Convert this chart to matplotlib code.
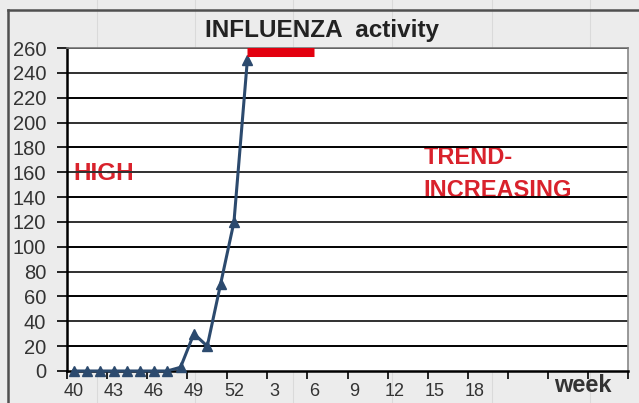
import matplotlib.pyplot as plt
from matplotlib.lines import Line2D

plt.rcParams['font.family'] = ['Liberation Sans', 'DejaVu Sans']

# data
weeks = list(range(40, 53)) + list(range(1, 30))
cases = [0, 0, 0, 0, 0, 0, 0, 0, 3, 30, 20, 70, 120, 250]
label_weeks = [40, 43, 46, 49, 52, 3, 6, 9, 12, 15, 18]
high_weeks = [1, 6]      # red bar at the top
high_level = 257
yticks = list(range(0, 261, 20))

x = list(range(len(cases)))
pos = {w: i for i, w in enumerate(weeks)}

fig = plt.figure(figsize=(6.39, 4.03), dpi=100, facecolor='#ececec')

# faint spreadsheet cells behind the chart
for fx in [97, 195, 293, 392, 492, 590]:
    fig.add_artist(Line2D([fx / 639, fx / 639], [0, 1], color='#dadada', lw=0.8, zorder=0))
# chart border
fig.add_artist(Line2D([8 / 639, 1], [1 - 10 / 403, 1 - 10 / 403], color='#505050', lw=1.8))
fig.add_artist(Line2D([8 / 639, 8 / 639], [0, 1 - 10 / 403], color='#505050', lw=1.8))

ax = fig.add_axes([67 / 639, 1 - 371 / 403, (628 - 67) / 639, (371 - 48) / 403])
ax.set_facecolor('white')

for i, v in enumerate(yticks[1:]):
    ax.axhline(v, color='black' if i % 2 == 0 else '#303030', lw=1.4, zorder=1)

ax.plot(x, cases, color='#2c4a6e', lw=2.2, marker='^', markersize=7, zorder=3, clip_on=False)
ax.plot([pos[high_weeks[0]], pos[high_weeks[1]]], [high_level, high_level],
        color='#e3000f', lw=6.5, solid_capstyle='butt', zorder=4)

ax.set_xlim(-0.5, len(weeks) - 0.5)
ax.set_ylim(0, 260)

ax.set_yticks(yticks)
ax.set_yticklabels([str(v) for v in yticks], fontsize=14.5, color='#333333')
ax.tick_params(axis='y', direction='out', length=7, width=1.2, pad=8, colors='black', labelcolor='#333333')

ax.set_xticks([i - 0.5 for i in range(0, len(weeks) + 1, 3)])
ax.set_xticklabels([])
ax.tick_params(axis='x', direction='out', length=6, width=1.2, colors='black')
ax.set_xticks([pos[w] for w in label_weeks], minor=True)
ax.set_xticklabels([str(w) for w in label_weeks], minor=True, fontsize=13, color='#333333')
ax.tick_params(axis='x', which='minor', length=0, pad=9)

for s in ['left', 'bottom']:
    ax.spines[s].set_linewidth(1.8)
    ax.spines[s].set_color('black')
ax.spines['top'].set_color('#777777')
ax.spines['top'].set_linewidth(1.2)
ax.spines['right'].set_color('#888888')
ax.spines['right'].set_linewidth(1.2)

fig.text(322 / 639, 1 - 31 / 403, 'INFLUENZA  activity', ha='center', va='center',
         fontsize=17.5, fontweight='bold', color='#222222')
fig.text(583 / 639, 1 - 386 / 403, 'week', ha='center', va='center',
         fontsize=17, fontweight='bold', color='#333333')

red = '#d9222c'
ax.text(0.0, 159, 'HIGH', color=red, fontsize=17.5, fontweight='bold', va='center', ha='left', zorder=0.5)
ax.text(26.2, 172, 'TREND-', color=red, fontsize=17, fontweight='bold', va='center', ha='left', zorder=0.5)
ax.text(26.2, 145, 'INCREASING', color=red, fontsize=17, fontweight='bold', va='center', ha='left', zorder=0.5)

fig.savefig('out.png', dpi=100, facecolor=fig.get_facecolor())
